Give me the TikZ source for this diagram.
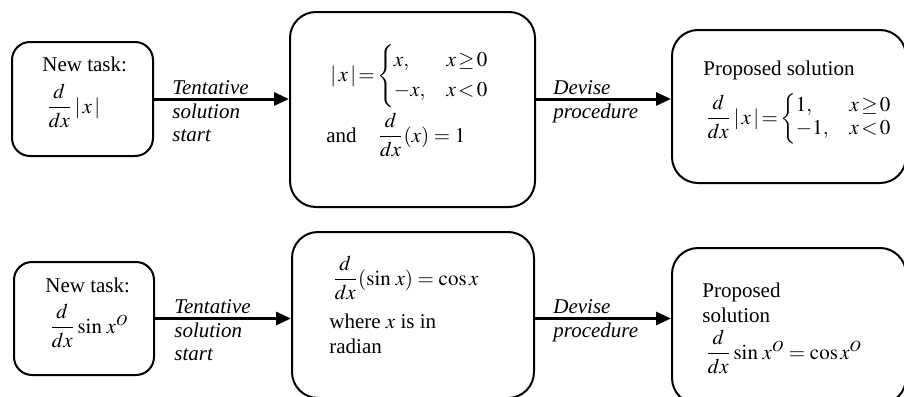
\documentclass[tikz,border=0pt]{standalone}
\usepackage{amsmath}
\usepackage{mathptmx}
\usepackage{fontspec}
\setmainfont{Liberation Serif}
\usetikzlibrary{arrows.meta,calc,positioning}
% two-row brace for the piecewise rules
\newcommand{\twocase}[5]{\renewcommand{\arraystretch}{#1}\left\{\begin{array}{@{}l@{\quad}l@{}} #2, & #3\\ #4, & #5\end{array}\right.}

\begin{document}
\begin{tikzpicture}[x=0.5pt,y=-0.5pt,
  box/.style={draw,line width=1pt,rounded corners=#1,inner sep=0pt},
  box/.default=13pt,
  txt/.style={inner sep=0pt,anchor=base west,font=\fontsize{10.5}{12}\selectfont},
  lbl/.style={inner sep=0pt,anchor=north west,align=left,font=\fontsize{10.5}{11.9}\selectfont\itshape},
  flow/.style={-{Triangle[length=7.5pt,width=6.5pt]},line width=1.5pt}
]
\path[use as bounding box,clip] (0,0) rectangle (904,396);
% boxes
\node[box=9pt,minimum width=70.5pt,minimum height=57pt] (b1) at (82.5,99) {};
\node[box,minimum width=122.5pt,minimum height=97.5pt] (b2) at (412.5,109.5) {};
\node[box,minimum width=117pt,minimum height=76.5pt] (b3) at (789,106.5) {};
\node[box=9pt,minimum width=70pt,minimum height=56.5pt] (b4) at (84,318.5) {};
\node[box,minimum width=121pt,minimum height=83pt] (b5) at (413,315) {};
\node[box,minimum width=117pt,minimum height=78pt] (b6) at (789,326) {};
% contents, top row
\node[txt] (t1) at (42,71) {New task:};
\node[txt] (f1) at (46,113) {$\dfrac{d}{dx}\,|\,x\,|$};
\node[txt] (f2) at (330,81) {$|\,x\,|\!=\!\twocase{1.25}{x}{x\!\ge\!0}{-x}{x\!<\!0}$};
\node[txt] (f3) at (326,142) {and\quad$\dfrac{d}{dx}(x)=1$};
\node[txt] (t3) at (703,75) {Proposed solution};
\node[txt] (f4) at (705,124) {$\dfrac{d}{dx}\,|\,x\,|\!=\!\twocase{0.95}{1}{x\!\ge\!0}{-1}{x\!<\!0}$};
% contents, bottom row
\node[txt] (t4) at (45,292) {New task:};
\node[txt] (f5) at (49,333) {$\dfrac{d}{dx}\sin\,x^{O}$};
\node[txt] (f6) at (332,285) {$\dfrac{d}{dx}(\sin\,x)=\cos x$};
\node[txt] (t5) at (329,328) {where $x$ is in};
\node[txt] (t6) at (329,353) {radian};
\node[txt] (t7) at (702,297) {Proposed};
\node[txt] (t8) at (702,322) {solution};
\node[txt] (f7) at (705,359) {$\dfrac{d}{dx}\sin\,x^{O}=\cos x^{O}$};
% arrow labels
\node[lbl] (l1) at (172,80) {Tentative\\solution\\start};
\node[lbl] (l2) at (553,80) {Devise\\procedure};
\node[lbl] (l3) at (174,299) {Tentative\\solution\\start};
\node[lbl] (l4) at (553,299) {Devise\\procedure};
% arrows
\draw[flow] (b1.east) -- (b1.east -| b2.west);
\draw[flow] (b2.east |- b1.east) -- (b1.east -| b3.west);
\draw[flow] (b4.east) -- (b4.east -| b5.west);
\draw[flow] (b5.east |- b4.east) -- (b4.east -| b6.west);
\end{tikzpicture}
\end{document}
